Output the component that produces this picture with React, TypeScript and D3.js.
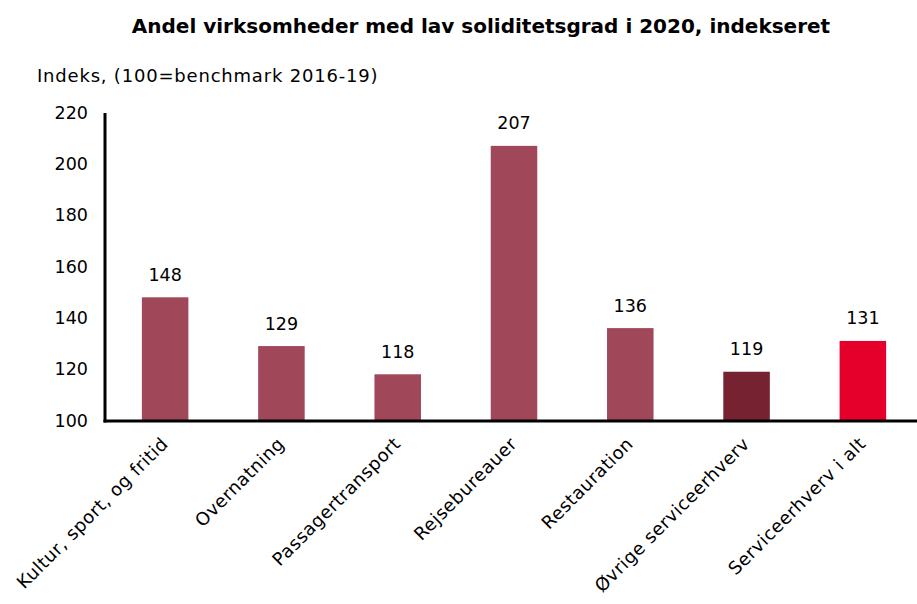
import React from "react";
import * as d3 from "d3";

const categories = [
  "Kultur, sport, og fritid",
  "Overnatning",
  "Passagertransport",
  "Rejsebureauer",
  "Restauration",
  "Øvrige serviceerhverv",
  "Serviceerhverv i alt",
];
const values = [148, 129, 118, 207, 136, 119, 131];
const barColors = ["#A0475A", "#A0475A", "#A0475A", "#A0475A", "#A0475A", "#772231", "#E4002B"];
const yTicks = [100, 120, 140, 160, 180, 200, 220];
const title = "Andel virksomheder med lav soliditetsgrad i 2020, indekseret";
const subtitle = "Indeks, (100=benchmark 2016-19)";

const W = 917;
const H = 604;
const FONT = "'DejaVu Sans', sans-serif";

export default function App() {
  const y = d3.scaleLinear().domain([100, 220]).range([420.5, 112.5]);
  const x = d3
    .scaleBand<string>()
    .domain(categories)
    .range([107, 921])
    .paddingInner(0.6)
    .paddingOuter(0.3);
  const axisX = 105;
  const axisY = 421;
  return (
    <svg
      width={W}
      height={H}
      style={{ position: "absolute", left: 0, top: 0 }}
      fontFamily={FONT}
    >
      <rect width={W} height={H} fill="#fff" />
      <text
        x={481}
        y={33}
        textAnchor="middle"
        fontWeight="bold"
        fontSize={20}
        fill="#000"
      >
        {title}
      </text>
      <text x={37} y={82} fontSize={18} letterSpacing={0.8} fill="#000">
        {subtitle}
      </text>
      {yTicks.map((t) => (
        <text
          key={t}
          x={88}
          y={y(t)}
          dy="0.35em"
          textAnchor="end"
          fontSize={17.5}
          fill="#000"
        >
          {t}
        </text>
      ))}
      {categories.map((c, i) => (
        <g key={c}>
          <rect
            x={x(c)}
            y={y(values[i])}
            width={x.bandwidth()}
            height={y(100) - y(values[i])}
            fill={barColors[i]}
          />
          <text
            x={(x(c) as number) + x.bandwidth() / 2}
            y={y(values[i]) - 16.5}
            textAnchor="middle"
            fontSize={17.5}
            fill="#000"
          >
            {values[i]}
          </text>
          <text
            transform={`translate(${(x(c) as number) + x.bandwidth() / 2 + 4},${445}) rotate(-45)`}
            textAnchor="end"
            fontSize={18}
            letterSpacing={0.5}
            fill="#000"
          >
            {c}
          </text>
        </g>
      ))}
      <line x1={axisX} x2={axisX} y1={113} y2={axisY + 1.5} stroke="#000" strokeWidth={3} />
      <line x1={axisX - 1.5} x2={W} y1={axisY} y2={axisY} stroke="#000" strokeWidth={3} />
    </svg>
  );
}
